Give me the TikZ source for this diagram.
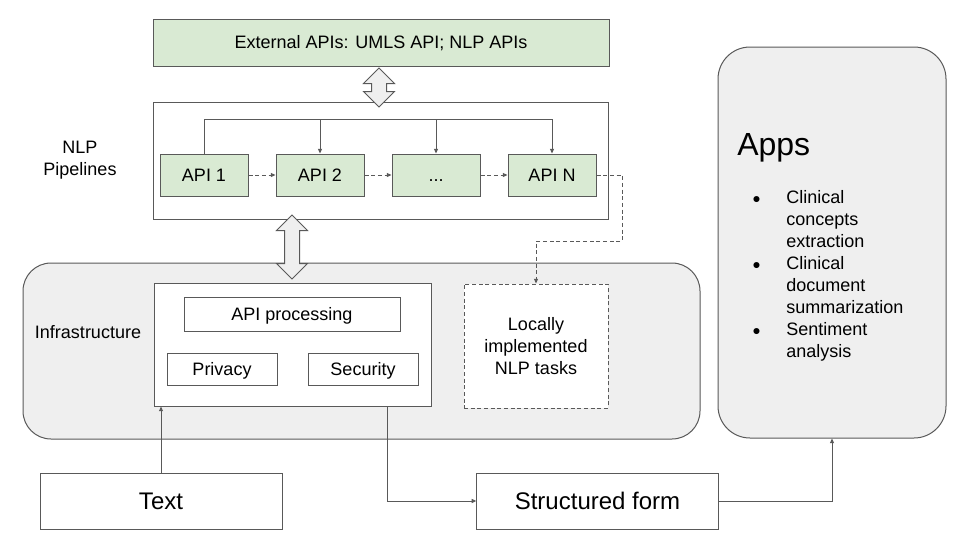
\documentclass[tikz,border=0pt]{standalone}
\usepackage{fontspec}
\setmainfont{Liberation Sans}
\usetikzlibrary{shapes.arrows,arrows.meta}
\definecolor{boxgreen}{HTML}{D9EAD3}
\definecolor{panelgray}{HTML}{EFEFEF}
\definecolor{linegray}{HTML}{595959}
\begin{document}
\begin{tikzpicture}[x=0.75pt,y=-0.75pt]
	\tikzstyle{every node}=[font=\fontsize{13.5}{16.5}\selectfont, inner sep=0pt]
	\tikzstyle{box}=[draw=linegray, line width=0.75pt, rectangle, text height=9.7pt, text depth=0pt]
	\tikzstyle{greenbox}=[box, fill=boxgreen]
	\tikzstyle{bigbox}=[box, font=\fontsize{18}{21}\selectfont, text height=12.9pt]
	\tikzstyle{panel}=[draw=linegray, line width=0.75pt, fill=panelgray, rounded corners=21pt]
	\tikzstyle{link}=[draw=linegray, line width=0.75pt, -{Triangle[length=3.5pt,width=3pt]}]
	\tikzstyle{dashlink}=[link, dash pattern=on 3pt off 2pt]
	\tikzstyle{bigarrow}=[draw=linegray, line width=0.75pt, fill=panelgray, double arrow, inner xsep=0pt, inner ysep=5.25pt, double arrow head extend=6pt, minimum width=22.5pt, rotate=90]
	\useasboundingbox[fill=white] (0,0) rectangle (960,540);
	
	% infrastructure panel
	\node[panel, minimum width=507.75pt, minimum height=132pt] (infra) at (361.5,351) {};
	\node (infralabel) at (88,332) {Infrastructure};
	\node[box, fill=white, minimum width=207.75pt, minimum height=92.25pt] (core) at (292.5,344.5) {};
	\node[box, minimum width=162pt, minimum height=25.5pt] (apiproc) at (292,314) {API processing};
	\node[box, minimum width=82.5pt, minimum height=24pt] (privacy) at (222,369) {Privacy};
	\node[box, minimum width=82.5pt, minimum height=24pt] (security) at (363,369) {Security};
	\node[draw=linegray, line width=0.75pt, fill=white, dash pattern=on 3pt off 2pt, minimum width=108pt, minimum height=93pt, align=center] (local) at (536,346) {Locally\\implemented\\NLP tasks};
	
	% external apis and pipelines
	\node[greenbox, minimum width=342pt, minimum height=35.25pt] (ext) at (381,42.5) {External APIs: UMLS API; NLP APIs};
	\node[box, minimum width=341.25pt, minimum height=87.75pt] (pipes) at (380.5,160.5) {};
	\node[align=center] (pipelabel) at (80,160) {NLP\\Pipelines};
	\node[greenbox, minimum width=66pt, minimum height=31.5pt] (api1) at (204,175) {API 1};
	\node[greenbox, minimum width=66pt, minimum height=31.5pt] (api2) at (320,175) {API 2};
	\node[greenbox, minimum width=66pt, minimum height=31.5pt] (apidots) at (436,175) {...};
	\node[greenbox, minimum width=66pt, minimum height=31.5pt] (apin) at (552,175) {API N};
	
	\draw[dashlink] (api1) -- (api2);
	\draw[dashlink] (api2) -- (apidots);
	\draw[dashlink] (apidots) -- (apin);
	\coordinate (bus) at (204,119);
	\draw[link] (api1.north) |- (bus -| apin.north) -- (apin.north);
	\draw[link] (bus -| api2.north) -- (api2.north);
	\draw[link] (bus -| apidots.north) -- (apidots.north);
	\coordinate (turn) at (622,241);
	\draw[dashlink] (apin.east) -| (turn) -| (local.north);
	
	\node[bigarrow, minimum height=29.25pt] (extlink) at (379,87.5) {};
	\node[bigarrow, minimum height=48pt] (infralink) at (292,247) {};
	
	% apps
	\node[panel, rounded corners=24pt, minimum width=171pt, minimum height=293.25pt] (apps) at (832,242.5) {};
	\node[anchor=base west, font=\fontsize{24}{28}\selectfont] (appstitle) at (737,155) {Apps};
	\node[anchor=base west, align=left] (applist) at (752,203) {\begin{tabular}[t]{@{}p{25.5pt}@{}l@{}}
		{\fontsize{10.5}{12}\selectfont ●} & Clinical\\
		 & concepts\\
		 & extraction\\
		{\fontsize{10.5}{12}\selectfont ●} & Clinical\\
		 & document\\
		 & summarization\\
		{\fontsize{10.5}{12}\selectfont ●} & Sentiment\\
		 & analysis
	\end{tabular}};
	
	% input and output
	\node[bigbox, minimum width=181.5pt, minimum height=42pt] (text) at (161,501) {Text};
	\node[bigbox, minimum width=181pt, minimum height=42pt] (structured) at (597.5,501) {Structured form};
	\coordinate (coreout) at (387,406);
	\draw[link] (text.north) -- (text.north |- core.south);
	\draw[link] (coreout) |- (structured.west);
	\draw[link] (structured.east) -| (apps.south);
\end{tikzpicture}
\end{document}
